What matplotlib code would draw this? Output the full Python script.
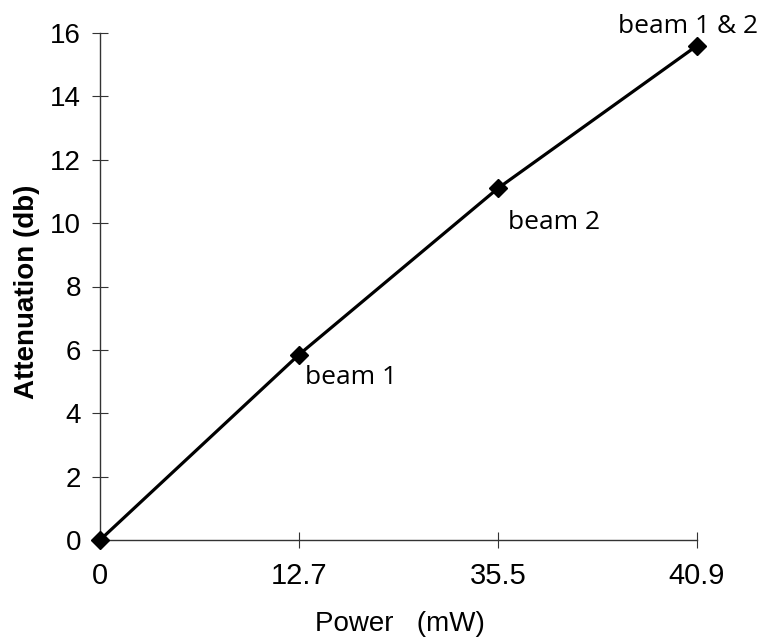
import matplotlib
matplotlib.use('Agg')
import matplotlib.pyplot as plt

power_labels = ['0', '12.7', '35.5', '40.9']
attenuation = [0.0, 5.85, 11.1, 15.6]
point_notes = ['', 'beam 1', 'beam 2', 'beam 1 & 2']
note_offsets = [(0, 0), (4, -21), (7, -29), (-57, 9)]
y_ticks = [0, 2, 4, 6, 8, 10, 12, 14, 16]

fig = plt.figure(figsize=(7.7, 6.4), dpi=100)
ax = fig.add_axes([100 / 770, 1 - 540 / 640, 597 / 770, 507 / 640])

x = list(range(len(power_labels)))
ax.plot(x, attenuation, color='black', lw=2.3, marker='D', markersize=9,
        clip_on=False, zorder=3)

for xi, yi, note, off in zip(x, attenuation, point_notes, note_offsets):
    if note:
        ax.annotate(note, (xi, yi), xytext=off, textcoords='offset points',
                    ha='left', va='baseline', fontsize=19, family='Open Sans')

ax.set_xlim(0, 3)
ax.set_ylim(0, 16)
ax.set_xticks(x)
ax.set_xticklabels(power_labels, family=['Liberation Sans Narrow', 'Liberation Sans'],
                   fontsize=21)
ax.set_yticks(y_ticks)
ax.set_yticklabels([str(v) for v in y_ticks], family='Liberation Sans', fontsize=20)

ax.tick_params(axis='both', direction='inout', length=11, width=0.8, color='#333333')
ax.tick_params(axis='x', pad=10)
ax.tick_params(axis='y', pad=8)

for side in ['top', 'right']:
    ax.spines[side].set_visible(False)
for side in ['left', 'bottom']:
    ax.spines[side].set_color('#333333')
    ax.spines[side].set_linewidth(1.0)

ax.set_xlabel('Power   (mW)', family='Liberation Sans', fontsize=20)
ax.xaxis.set_label_coords(0.5025, -0.14)
ax.set_ylabel('Attenuation (db)', family=['Liberation Sans Narrow', 'Liberation Sans'],
              fontweight='bold', fontsize=20)
ax.yaxis.set_label_coords(-0.1, 0.49)

fig.savefig('out.png', dpi=100)
